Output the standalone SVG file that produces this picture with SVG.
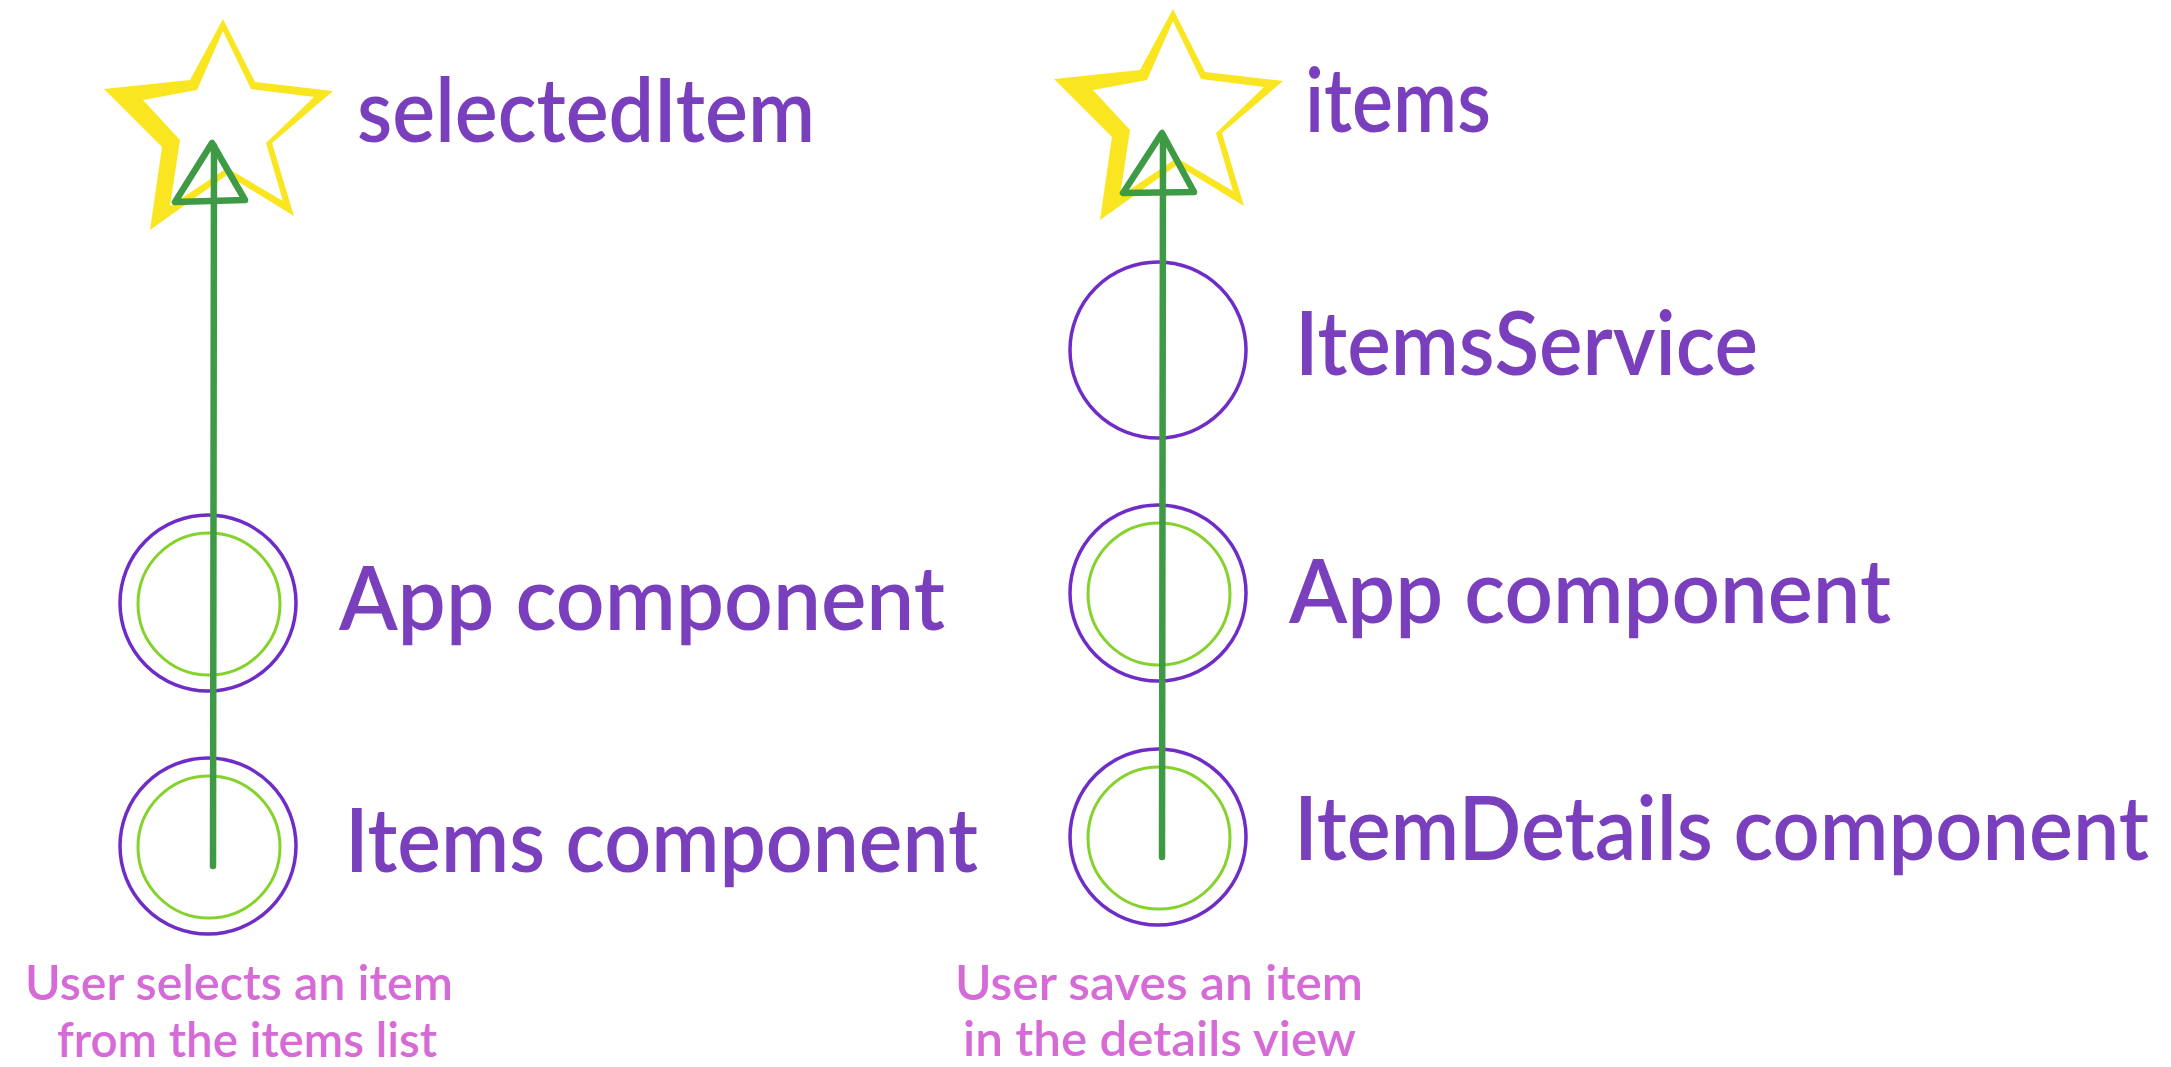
<svg xmlns="http://www.w3.org/2000/svg" width="2171" height="1067" viewBox="0 0 2171 1067">
  <style>
    .label { font-family: Lato, "Noto Sans", "Liberation Sans", sans-serif; font-weight: 600; font-size: 88px; fill: #7a3fbd; }
    .caption { font-family: Lato, "Noto Sans", "Liberation Sans", sans-serif; font-weight: 600; font-size: 48px; fill: #d66ad6; }
    .ring-outer { fill: none; stroke: #6f2cc6; stroke-width: 3.5; }
    .ring-inner { fill: none; stroke: #86d22c; stroke-width: 3; }
    .flow { fill: none; stroke: #3f9a45; stroke-width: 6.5; stroke-linecap: round; stroke-linejoin: round; }
  </style>
  <defs>
    <!-- hand-drawn star: yellow outer shape with a white inner cut-out -->
    <g id="star">
      <polygon fill="#f9e520" points="223,19 255,82 333,91 272,143 294,216 227,175 150,230 162,147 104,89 190,80"/>
      <polygon fill="#ffffff" points="223,31 251,89 314,97 266,143 283,201 227,168 170,206 180,140 143,100 197,90"/>
    </g>
  </defs>
  <rect width="2171" height="1067" fill="#ffffff"/>

  <!-- left column: selectedItem -->
  <g id="state-selectedItem">
    <use href="#star"/>
    <text class="label" x="357" y="142" textLength="458" lengthAdjust="spacingAndGlyphs">selectedItem</text>
  </g>
  <g id="app-component-left">
    <circle class="ring-outer" cx="208" cy="603" r="88"/>
    <circle class="ring-inner" cx="209" cy="604" r="71"/>
    <text class="label" x="339" y="630" textLength="606" lengthAdjust="spacingAndGlyphs">App component</text>
  </g>
  <g id="items-component">
    <circle class="ring-outer" cx="208" cy="846" r="88"/>
    <circle class="ring-inner" cx="209" cy="847" r="71"/>
    <text class="label" x="345" y="872" textLength="633" lengthAdjust="spacingAndGlyphs">Items component</text>
  </g>
  <g id="caption-left">
    <text class="caption" x="25" y="1000" textLength="428" lengthAdjust="spacingAndGlyphs">User selects an item</text>
    <text class="caption" x="57" y="1057" textLength="380" lengthAdjust="spacingAndGlyphs">from the items list</text>
  </g>

  <!-- right column: items -->
  <g id="state-items">
    <use href="#star" transform="translate(950,-10)"/>
    <text class="label" x="1305" y="132" textLength="186" lengthAdjust="spacingAndGlyphs">items</text>
  </g>
  <g id="items-service">
    <circle class="ring-outer" cx="1158" cy="350" r="88"/>
    <text class="label" x="1295" y="375" textLength="463" lengthAdjust="spacingAndGlyphs">ItemsService</text>
  </g>
  <g id="app-component-right">
    <circle class="ring-outer" cx="1158" cy="593" r="88"/>
    <circle class="ring-inner" cx="1159" cy="594" r="71"/>
    <text class="label" x="1289" y="623" textLength="602" lengthAdjust="spacingAndGlyphs">App component</text>
  </g>
  <g id="item-details-component">
    <circle class="ring-outer" cx="1158" cy="837" r="88"/>
    <circle class="ring-inner" cx="1159" cy="838" r="71"/>
    <text class="label" x="1294" y="860" textLength="855" lengthAdjust="spacingAndGlyphs">ItemDetails component</text>
  </g>
  <g id="caption-right">
    <text class="caption" x="955" y="1000" textLength="408" lengthAdjust="spacingAndGlyphs">User saves an item</text>
    <text class="caption" x="963" y="1056" textLength="393" lengthAdjust="spacingAndGlyphs">in the details view</text>
  </g>

  <!-- connectors: upward flow lines with open triangular heads -->
  <g id="connectors">
    <path class="flow" d="M213,866 L214,146"/>
    <path class="flow" d="M212,143 L175,202 L245,200 Z"/>
    <path class="flow" d="M1162,857 L1163,136"/>
    <path class="flow" d="M1162,133 L1123,193 L1194,192 Z"/>
  </g>
</svg>
